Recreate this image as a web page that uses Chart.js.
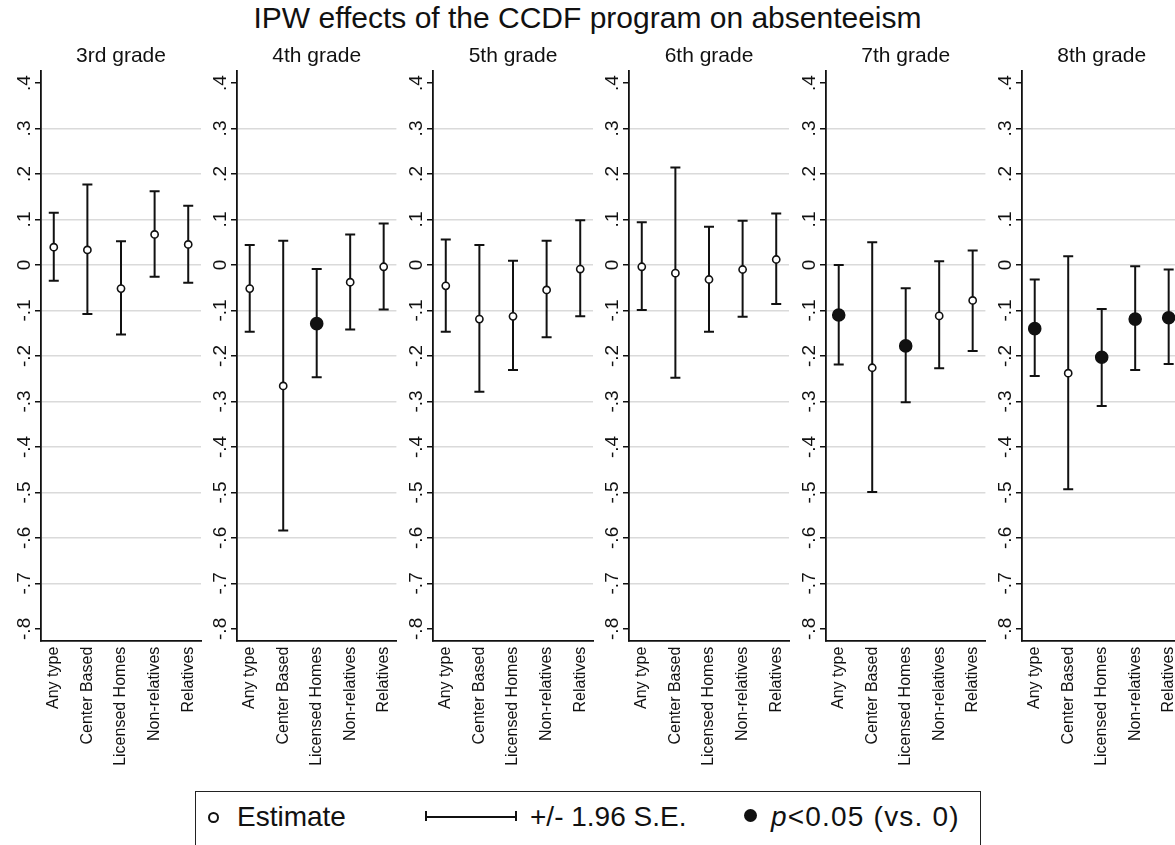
<!DOCTYPE html>
<html>
<head>
<meta charset="utf-8">
<script src="https://cdn.jsdelivr.net/npm/chart.js@4.4.1/dist/chart.umd.min.js"></script>
<style>
  html, body { margin: 0; padding: 0; background: #fff; }
  body { width: 1175px; height: 845px; position: relative; overflow: hidden;
         font-family: 'Liberation Sans', Arial, sans-serif; color: #111; }
  #title { position: absolute; left: 0; top: 1px; width: 1175px; text-align: center; font-size: 30px; }
  canvas.panel { position: absolute; top: 40px; }
  #legend { position: absolute; left: 195px; top: 791px; width: 786px; height: 60px;
            border: 1.5px solid #222; box-sizing: border-box; }
  #legend .txt { position: absolute; top: 9px; font-size: 28px; line-height: 32px; }
  #legend .hollow { position: absolute; left: 12px; top: 20px; width: 7px; height: 7px;
                    border: 2px solid #111; border-radius: 50%; }
  #legend .solid { position: absolute; left: 548px; top: 17px; width: 13px; height: 13px;
                   background: #111; border-radius: 50%; }
  #legend .bar { position: absolute; left: 230px; top: 24px; width: 90px; height: 0;
                 border-top: 2px solid #111; }
  #legend .cap { position: absolute; top: 19px; width: 0; height: 10px; border-left: 2px solid #111; }
</style>
</head>
<body>
<div id="title">IPW effects of the CCDF program on absenteeism</div>

<div id="legend">
  <div class="hollow"></div>
  <div class="txt" style="left:41px">Estimate</div>
  <div class="cap" style="left:229px"></div>
  <div class="bar"></div>
  <div class="cap" style="left:319px"></div>
  <div class="txt" style="left:334px">+/- 1.96 S.E.</div>
  <div class="solid"></div>
  <div class="txt" style="left:575px; letter-spacing:1.2px"><i>p</i>&lt;0.05 (vs. 0)</div>
</div>

<script>
'use strict';

// --- DANE ---
const grades = ['3rd grade', '4th grade', '5th grade', '6th grade', '7th grade', '8th grade'];
const careTypes = ['Any type', 'Center Based', 'Licensed Homes', 'Non-relatives', 'Relatives'];

const yTicks = [-0.8, -0.7, -0.6, -0.5, -0.4, -0.3, -0.2, -0.1, 0, 0.1, 0.2, 0.3, 0.4];
const yTickLabels = ['-.8', '-.7', '-.6', '-.5', '-.4', '-.3', '-.2', '-.1', '0', '.1', '.2', '.3', '.4'];

// one row per grade, one value per care type
const estimate = [
    [0.039, 0.033, -0.052, 0.067, 0.045],
    [-0.052, -0.266, -0.129, -0.038, -0.004],
    [-0.046, -0.119, -0.113, -0.055, -0.009],
    [-0.004, -0.018, -0.032, -0.010, 0.012],
    [-0.110, -0.226, -0.178, -0.112, -0.078],
    [-0.140, -0.238, -0.203, -0.119, -0.116]
];
const upper = [
    [0.115, 0.177, 0.052, 0.162, 0.130],
    [0.044, 0.053, -0.009, 0.067, 0.091],
    [0.056, 0.044, 0.009, 0.053, 0.098],
    [0.094, 0.214, 0.084, 0.097, 0.113],
    [0.000, 0.050, -0.051, 0.008, 0.032],
    [-0.032, 0.019, -0.097, -0.003, -0.010]
];
const lower = [
    [-0.035, -0.108, -0.153, -0.026, -0.039],
    [-0.147, -0.584, -0.247, -0.142, -0.098],
    [-0.147, -0.279, -0.231, -0.159, -0.113],
    [-0.099, -0.248, -0.147, -0.114, -0.086],
    [-0.219, -0.499, -0.302, -0.227, -0.189],
    [-0.244, -0.493, -0.310, -0.231, -0.218]
];
const significant = [
    [0, 0, 0, 0, 0],
    [0, 0, 1, 0, 0],
    [0, 0, 0, 0, 0],
    [0, 0, 0, 0, 0],
    [1, 0, 1, 0, 0],
    [1, 0, 1, 1, 1]
];

const FONT = "'Liberation Sans', Arial, sans-serif";
const INK = '#111';

// rotated y tick labels (Stata style)
const rotatedYLabels = {
    id: 'rotatedYLabels',
    afterDraw(chart) {
        const s = chart.scales.y;
        const ctx = chart.ctx;
        ctx.save();
        ctx.fillStyle = INK;
        ctx.font = `19px ${FONT}`;
        ctx.textAlign = 'center';
        ctx.textBaseline = 'alphabetic';
        s.ticks.forEach((t, i) => {
            const y = s.getPixelForValue(t.value);
            ctx.save();
            ctx.translate(s.right - 11.5, y);
            ctx.rotate(-Math.PI / 2);
            ctx.fillText(yTickLabels[i], 0, 0);
            ctx.restore();
        });
        ctx.restore();
    }
};

grades.forEach((grade, g) => {
    const canvas = document.createElement('canvas');
    canvas.className = 'panel';
    canvas.width = 207;
    canvas.height = 740;
    canvas.style.left = (0.7 + g * 196.2) + 'px';
    document.body.appendChild(canvas);

    const points = careTypes.map((c, i) => ({ x: i, y: estimate[g][i] }));
    const caps = [];
    const whiskers = [];
    careTypes.forEach((c, i) => {
        caps.push({ x: i, y: lower[g][i] }, { x: i, y: upper[g][i] });
        whiskers.push({ x: i, y: lower[g][i] }, { x: i, y: upper[g][i] }, { x: i, y: null });
    });

    new Chart(canvas.getContext('2d'), {
        type: 'scatter',
        data: {
            datasets: [
                {
                    label: 'Estimate',
                    data: points,
                    pointStyle: 'circle',
                    pointRadius: ctx => significant[g][ctx.dataIndex] ? 6 : 3.6,
                    pointBackgroundColor: ctx => significant[g][ctx.dataIndex] ? INK : '#fff',
                    pointBorderColor: INK,
                    pointBorderWidth: 1.6
                },
                {
                    label: 'caps',
                    data: caps,
                    pointStyle: 'line',
                    pointRadius: 5,
                    pointBorderColor: INK,
                    pointBorderWidth: 2
                },
                {
                    label: 'CI',
                    data: whiskers,
                    showLine: true,
                    spanGaps: false,
                    borderColor: INK,
                    borderWidth: 2,
                    pointRadius: 0
                }
            ]
        },
        options: {
            responsive: false,
            animation: false,
            events: [],
            layout: { padding: 0 },
            plugins: {
                legend: { display: false },
                tooltip: { enabled: false },
                title: {
                    display: true,
                    text: grade,
                    fullSize: false,
                    color: INK,
                    font: { family: FONT, size: 21, weight: 'normal', lineHeight: 1.2 },
                    padding: { top: 4, bottom: 1.5 }
                }
            },
            scales: {
                x: {
                    type: 'linear',
                    min: -0.38,
                    max: 4.38,
                    offset: false,
                    afterBuildTicks: scale => { scale.ticks = careTypes.map((c, i) => ({ value: i })); },
                    afterFit: scale => {
                        scale.height = 139.3;
                        scale.paddingLeft = 0;
                        scale.paddingRight = 0;
                    },
                    grid: { display: false, drawTicks: false },
                    border: { display: true, color: INK, width: 1.8 },
                    ticks: {
                        autoSkip: false,
                        minRotation: 90,
                        maxRotation: 90,
                        padding: 6,
                        color: INK,
                        font: { family: FONT, size: 16 },
                        callback: v => careTypes[v]
                    }
                },
                y: {
                    type: 'linear',
                    min: -0.826,
                    max: 0.427,
                    afterBuildTicks: scale => { scale.ticks = yTicks.map(v => ({ value: v })); },
                    afterFit: scale => {
                        scale.width = 40;
                        scale.paddingTop = 0;
                        scale.paddingBottom = 0;
                    },
                    grid: {
                        color: ctx => (ctx.tick && (ctx.tick.value === 0.4 || ctx.tick.value === -0.8)) ? 'rgba(0,0,0,0)' : '#dadada',
                        lineWidth: 1.5,
                        tickColor: INK,
                        tickLength: 6
                    },
                    border: { display: true, color: INK, width: 1.8 },
                    ticks: { display: false }
                }
            }
        },
        plugins: [rotatedYLabels]
    });
});
</script>
</body>
</html>
